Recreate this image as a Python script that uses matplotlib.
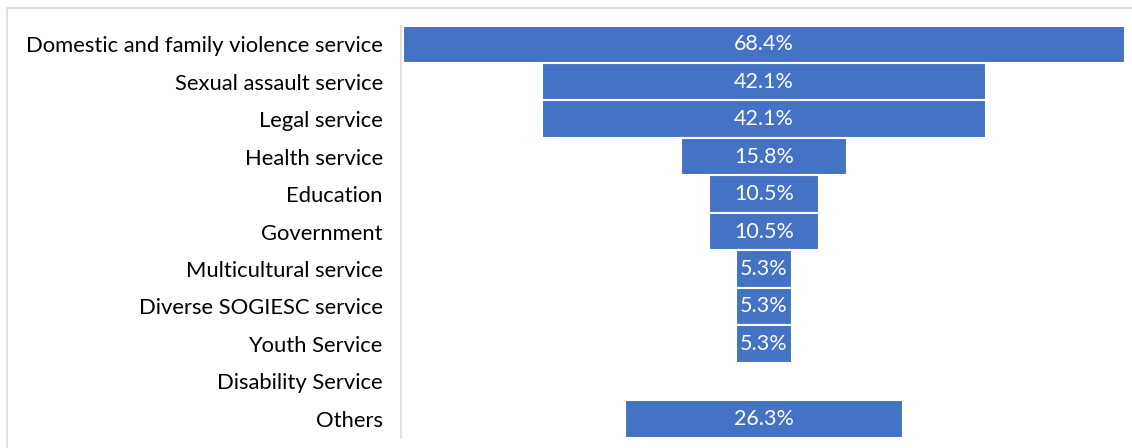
import matplotlib.pyplot as plt
from matplotlib.patches import Rectangle

# Datos
categories = ['Domestic and family violence service', 'Sexual assault service',
              'Legal service', 'Health service', 'Education', 'Government',
              'Multicultural service', 'Diverse SOGIESC service', 'Youth Service',
              'Disability Service', 'Others']
values = [68.4, 42.1, 42.1, 15.8, 10.5, 10.5, 5.3, 5.3, 5.3, 0.0, 26.3]

plt.rcParams['font.family'] = ['Lato', 'DejaVu Sans']

fig = plt.figure(figsize=(11.32, 4.48), dpi=100)
ax = fig.add_axes([0.3542, 0.0234, 0.6414, 0.9196])

# Marco exterior del gráfico
fig.patches.append(Rectangle((0.0062, -0.1), 1.2, 1.082, transform=fig.transFigure,
                             fill=False, edgecolor='#d9d9d9', linewidth=1.2))

y = list(range(len(categories)))
for yi, v in zip(y, values):
    if v <= 0:
        continue
    ax.barh(yi, v, left=-v / 2, height=1.0, color='#4472C4',
            edgecolor='white', linewidth=1.5)
    ax.text(0, yi, f'{v:.1f}%', ha='center', va='center', color='white', fontsize=15.5)

ax.set_xlim(-34.37, 34.37)
ax.set_ylim(len(categories) - 0.5, -0.5)
ax.set_yticks(y)
ax.set_yticklabels(categories, fontsize=15.8, color='black')
ax.tick_params(axis='y', length=0, pad=13)
ax.set_xticks([])
for s in ['top', 'right', 'bottom']:
    ax.spines[s].set_visible(False)
ax.spines['left'].set_color('#d9d9d9')
ax.spines['left'].set_linewidth(1.2)

fig.savefig('out.png', dpi=100)
